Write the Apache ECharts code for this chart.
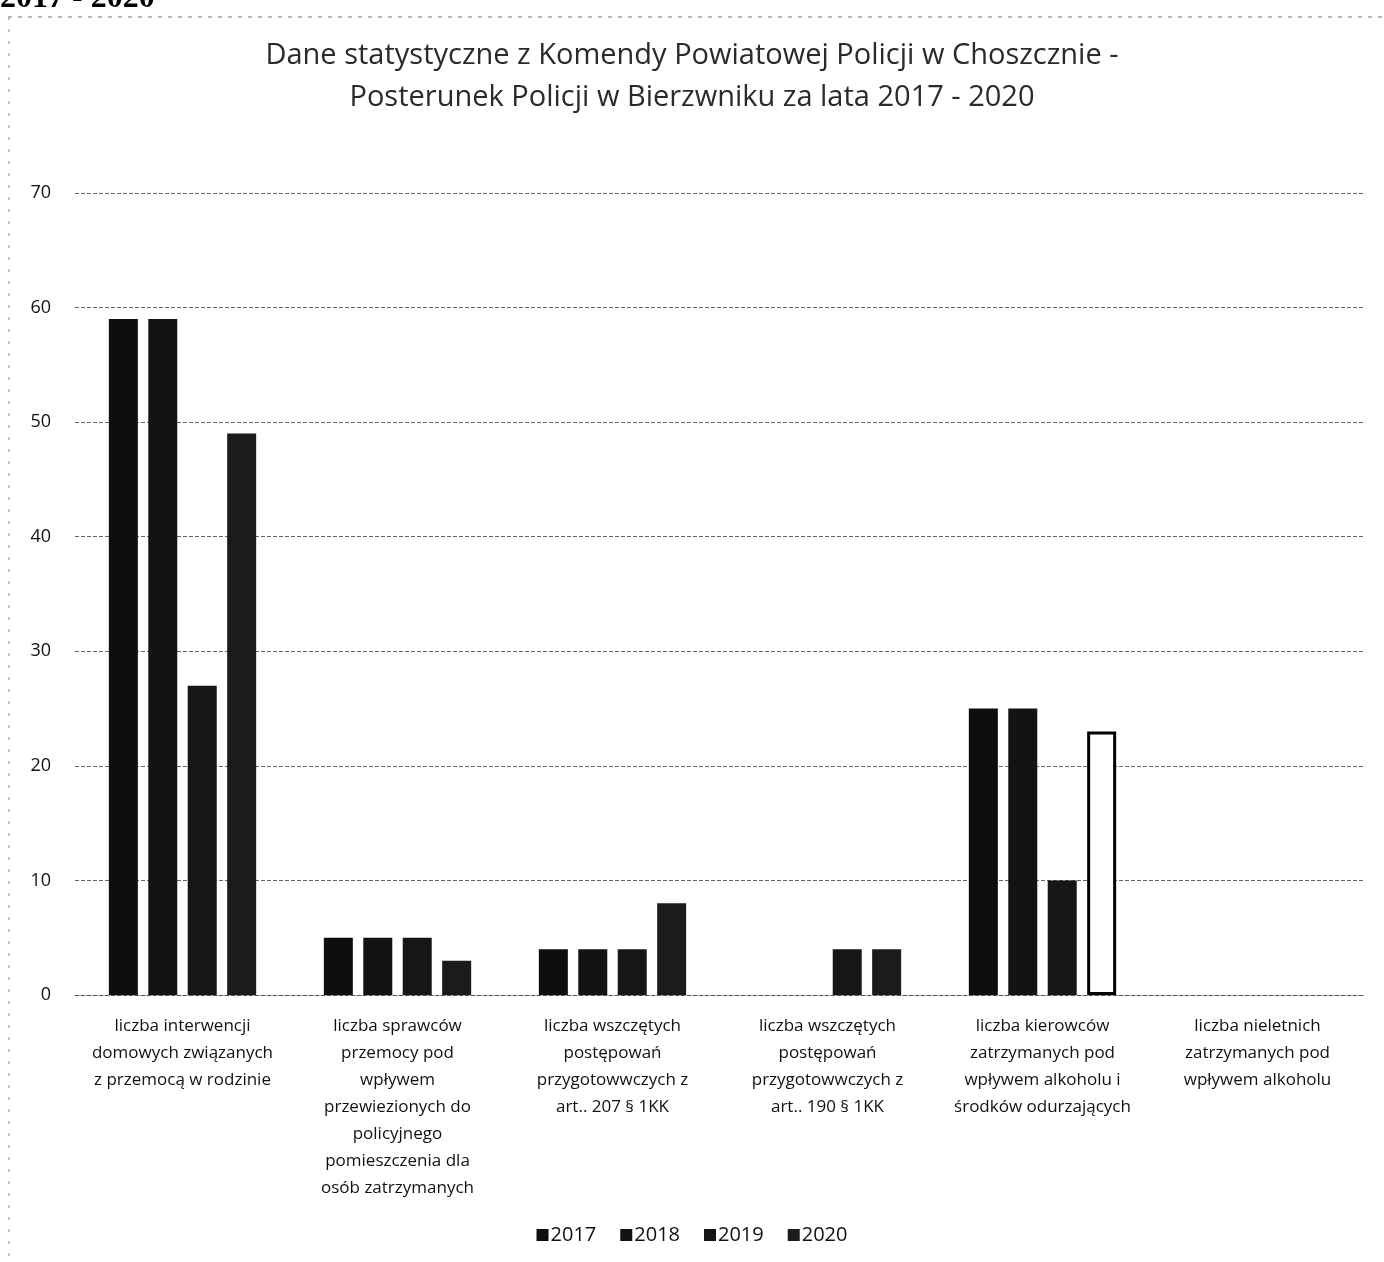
<!DOCTYPE html>
<html><head><meta charset="utf-8">
<script src="https://cdn.jsdelivr.net/npm/echarts@6/dist/echarts.min.js"></script>
<style>html,body{margin:0;padding:0;background:#fff}#c{width:1384px;height:1262px}</style>
</head><body><div id="c"></div>
<script>
const categories = [
  "liczba interwencji\ndomowych związanych\nz przemocą w rodzinie",
  "liczba sprawców\nprzemocy pod\nwpływem\nprzewiezionych do\npolicyjnego\npomieszczenia dla\nosób zatrzymanych",
  "liczba wszczętych\npostępowań\nprzygotowwczych z\nart.. 207 § 1KK",
  "liczba wszczętych\npostępowań\nprzygotowwczych z\nart.. 190 § 1KK",
  "liczba kierowców\nzatrzymanych pod\nwpływem alkoholu i\nśrodków odurzających",
  "liczba nieletnich\nzatrzymanych pod\nwpływem alkoholu"
];
const seriesNames = ["2017", "2018", "2019", "2020"];
const v2017 = [59, 5, 4, 0, 25, 0];
const v2018 = [59, 5, 4, 0, 25, 0];
const v2019 = [27, 5, 4, 4, 10, 0];
const v2020 = [49, 3, 8, 4, 23, 0];
const yTicks = [0, 10, 20, 30, 40, 50, 60, 70];

const colors = ['#0e0e0e', '#131313', '#161616', '#1b1b1b'];
const values = [v2017, v2018, v2019, v2020];

const chart = echarts.init(document.getElementById('c'));
const font = '"Open Sans", "DejaVu Sans", sans-serif';

const series = seriesNames.map((n, i) => ({
  name: n,
  type: 'bar',
  barWidth: 29,
  barGap: '36%',
  itemStyle: { color: colors[i] },
  data: values[i].map((v, j) => {
    if (i === 3 && j === 4) {
      return { value: v, itemStyle: { color: '#ffffff', borderColor: '#000', borderWidth: 3 } };
    }
    return v;
  })
}));

chart.setOption({
  animation: false,
  backgroundColor: '#fff',
  color: colors,
  title: {
    text: 'Dane statystyczne z Komendy Powiatowej Policji w Choszcznie -\nPosterunek Policji w Bierzwniku za lata 2017 - 2020',
    left: 'center',
    top: 30,
    textStyle: { fontFamily: font, fontSize: 29, fontWeight: 'normal', color: '#2a2a2a', lineHeight: 42 }
  },
  legend: {
    data: seriesNames,
    bottom: 12,
    left: 'center',
    icon: 'rect',
    itemWidth: 12,
    itemHeight: 12,
    itemGap: 24,
    textStyle: { fontFamily: font, fontSize: 20, color: '#111', padding: [0, 0, 0, -3] }
  },
  grid: { left: 75, right: 19, top: 193, bottom: 267, containLabel: false },
  xAxis: {
    type: 'category',
    data: categories,
    axisLine: { show: true, lineStyle: { color: '#555', type: 'dashed', width: 1 } },
    axisTick: { show: false },
    axisLabel: {
      interval: 0,
      fontFamily: font,
      fontSize: 17,
      color: '#111',
      lineHeight: 27,
      margin: 18
    }
  },
  yAxis: {
    type: 'value',
    min: 0,
    max: 70,
    interval: 10,
    axisLine: { show: false },
    axisTick: { show: false },
    axisLabel: { fontFamily: font, fontSize: 18, color: '#111', margin: 24 },
    splitLine: { lineStyle: { color: '#666', type: 'dashed', width: 1 } }
  },
  graphic: [
    { type: 'text', left: 0, top: -17, style: { text: '2017 - 2020', font: 'bold 32px "Liberation Serif", serif', fill: '#000' } },
    { type: 'line', shape: { x1: 8, y1: 17, x2: 1384, y2: 17 }, style: { stroke: '#777', lineWidth: 1, lineDash: [4, 6] } },
    { type: 'line', shape: { x1: 9, y1: 17, x2: 9, y2: 1262 }, style: { stroke: '#888', lineWidth: 1, lineDash: [3, 9] } }
  ],
  series: series
});
</script></body></html>
